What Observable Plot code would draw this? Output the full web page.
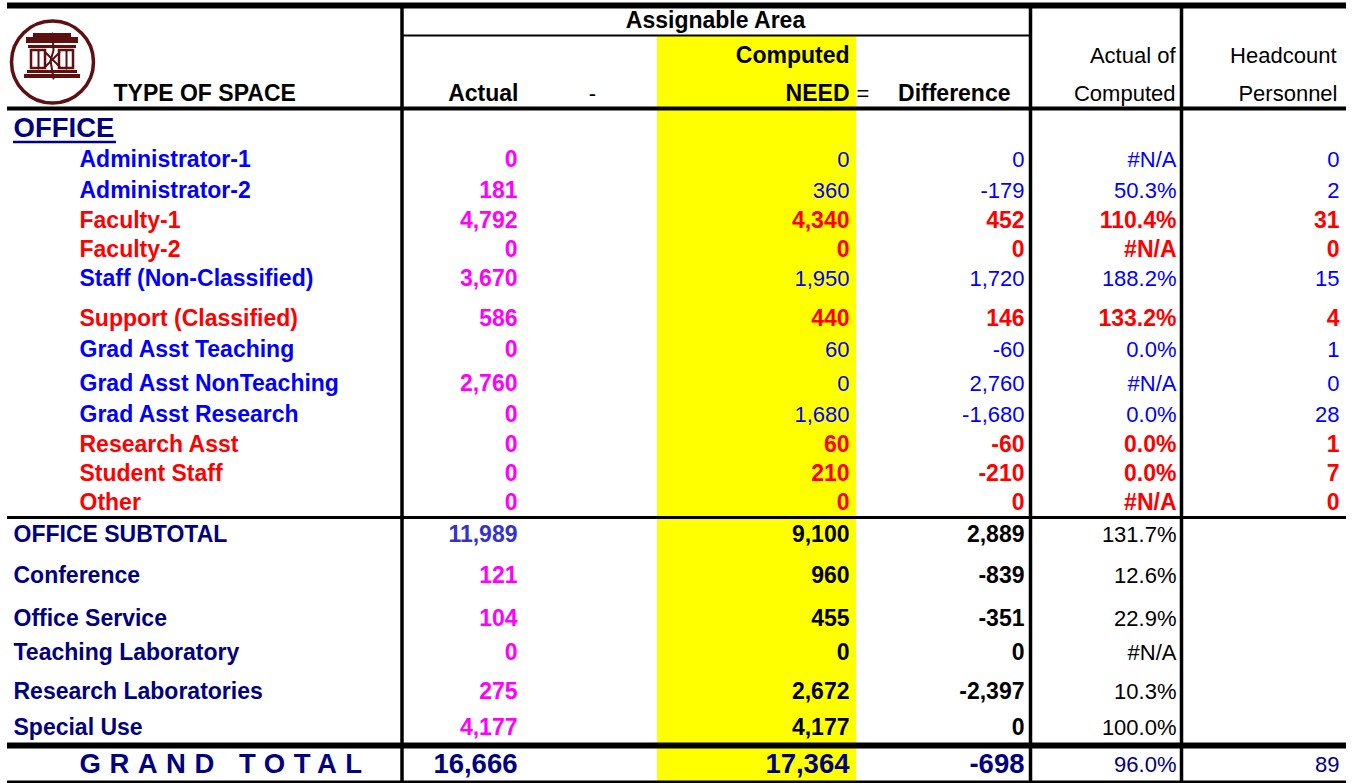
<!DOCTYPE html>
<html><head><meta charset="utf-8">
<script src="https://cdn.jsdelivr.net/npm/d3@7"></script>
<script src="https://cdn.jsdelivr.net/npm/@observablehq/plot@0.6"></script>
<style>html,body{margin:0;padding:0;background:#fff;overflow:hidden}</style>
</head><body><div id="chart"></div>
<script>
// ---------- DATA ----------
const officeCategories = ["Administrator-1","Administrator-2","Faculty-1","Faculty-2","Staff (Non-Classified)","Support (Classified)","Grad Asst Teaching","Grad Asst NonTeaching","Grad Asst Research","Research Asst","Student Staff","Other"];
const officeActual = [0,181,4792,0,3670,586,0,2760,0,0,0,0];
const officeNeed = [0,360,4340,0,1950,440,60,0,1680,60,210,0];
const officeDifference = [0,-179,452,0,1720,146,-60,2760,-1680,-60,-210,0];
const officePct = [null,50.3,110.4,null,188.2,133.2,0.0,null,0.0,0.0,0.0,null];
const officeHeadcount = [0,2,31,0,15,4,1,0,28,1,7,0];

const summaryCategories = ["OFFICE SUBTOTAL","Conference","Office Service","Teaching Laboratory","Research Laboratories","Special Use"];
const summaryActual = [11989,121,104,0,275,4177];
const summaryNeed = [9100,960,455,0,2672,4177];
const summaryDifference = [2889,-839,-351,0,-2397,0];
const summaryPct = [131.7,12.6,22.9,null,10.3,100.0];

const grandLabel = "GRAND TOTAL";
const grandActual = 16666, grandNeed = 17364, grandDifference = -698, grandPct = 96.0, grandHeadcount = 89;

// ---------- LAYOUT & STYLE ----------
const W = 1354, H = 783;
const col = {labelLeft: 13, labelIndent: 79, actual: 517, need: 849, diff: 1024, pct: 1176, head: 1339};
const headerY = [20, 55, 93];
const officeTitleY = 128;
const officeRowY = [159,190,220,249,278,318,349,383,414,444,473,502];
const summaryRowY = [534,575,618,652,691,727];
const grandRowY = 764;
const redRows = new Set(["Faculty-1","Faculty-2","Support (Classified)","Research Asst","Student Staff","Other"]);
const C = {blue:"#0000ff", red:"#ff0000", magenta:"#ff00ff", navy:"#000080", slate:"#3333cc", black:"#000000", maroon:"#5e0f0f", yellow:"#ffff00"};
const FS = 23, FSR = 22, FSB = 27.5;

const loc = d3.formatLocale({decimal:".", thousands:",", grouping:[3], currency:["",""], minus:"-"});
const num = loc.format(",");
const pct = v => v == null ? "#N/A" : v.toFixed(1) + "%";

const cells = [];
const cell = (x, y, text, fill, bold, size, anchor) => cells.push({x, y, text, fill, bold, size, anchor});

// header
cell(715, headerY[0], "Assignable Area", C.black, true, FS, "middle");
cell(col.need, headerY[1], "Computed", C.black, true, FS, "end");
cell(1175, headerY[1], "Actual of", C.black, false, FSR, "end");
cell(1336, headerY[1], "Headcount", C.black, false, FSR, "end");
cell(113, headerY[2], "TYPE OF SPACE", C.black, true, FS, "start");
cell(518, headerY[2], "Actual", C.black, true, FS, "end");
cell(592, headerY[2], "-", C.black, false, FSR, "middle");
cell(col.need, headerY[2], "NEED", C.black, true, FS, "end");
cell(856, headerY[2], "=", C.black, false, FSR, "start");
cell(1010, headerY[2], "Difference", C.black, true, FS, "end");
cell(1175, headerY[2], "Computed", C.black, false, FSR, "end");
cell(1337, headerY[2], "Personnel", C.black, false, FSR, "end");

// office title
cell(col.labelLeft, officeTitleY, "OFFICE", C.navy, true, FSB, "start");

// office rows
officeCategories.forEach((c, i) => {
  const red = redRows.has(c);
  const y = officeRowY[i];
  const f = red ? C.red : C.blue;
  cell(col.labelIndent, y, c, f, true, FS, "start");
  cell(col.actual, y, num(officeActual[i]), C.magenta, true, FS, "end");
  cell(col.need, y, num(officeNeed[i]), f, red, red ? FS : FSR, "end");
  cell(col.diff, y, num(officeDifference[i]), f, red, red ? FS : FSR, "end");
  cell(col.pct, y, pct(officePct[i]), f, red, red ? FS : FSR, "end");
  cell(col.head, y, num(officeHeadcount[i]), f, red, red ? FS : FSR, "end");
});

// summary rows
summaryCategories.forEach((c, i) => {
  const y = summaryRowY[i];
  cell(col.labelLeft, y, c, C.navy, true, FS, "start");
  cell(col.actual, y, num(summaryActual[i]), i === 0 ? C.slate : C.magenta, true, FS, "end");
  cell(col.need, y, num(summaryNeed[i]), C.black, true, FS, "end");
  cell(col.diff, y, num(summaryDifference[i]), C.black, true, FS, "end");
  cell(col.pct, y, pct(summaryPct[i]), C.black, false, FSR, "end");
});

// grand total
cell(col.labelIndent, grandRowY, grandLabel, C.navy, true, FSB, "start");
cell(col.actual, grandRowY, num(grandActual), C.navy, true, FSB, "end");
cell(col.need, grandRowY, num(grandNeed), C.navy, true, FSB, "end");
cell(col.diff, grandRowY, num(grandDifference), C.navy, true, FSB, "end");
cell(col.pct, grandRowY, pct(grandPct), C.navy, false, FSR, "end");
cell(col.head, grandRowY, num(grandHeadcount), C.navy, false, FSR, "end");

// rules
const hRules = [
  {y: 5, x1: 7, x2: 1346, w: 6},
  {y: 35, x1: 401, x2: 1030, w: 2},
  {y: 108, x1: 7, x2: 1346, w: 4},
  {y: 517, x1: 7, x2: 1346, w: 3},
  {y: 745, x1: 7, x2: 1346, w: 6},
  {y: 781.5, x1: 7, x2: 1346, w: 3}
];
const vRules = [
  {x: 401.5, y1: 3, y2: 783, w: 3.5},
  {x: 1030, y1: 3, y2: 783, w: 3.5},
  {x: 1181, y1: 3, y2: 783, w: 3.5}
];
const highlight = [{x1: 657, x2: 856, y1: 36, y2: 783}];
const underline = [{y: 141.5, x1: 13, x2: 116}];

// logo pieces
const logoCircle = [{x: 52, y: 61.5, r: 41}];
const logoFill = [
  {x1: 33, x2: 71, y1: 33, y2: 37},
  {x1: 26, x2: 78, y1: 37, y2: 43},
  {x1: 28, x2: 76, y1: 45, y2: 48},
  {x1: 27, x2: 77, y1: 70, y2: 73},
  {x1: 24, x2: 80, y1: 74, y2: 78}
];
const logoStroke = [
  {x1: 31, x2: 45, y1: 50, y2: 68},
  {x1: 59, x2: 73, y1: 50, y2: 68}
];
const logoLines = [
  [{x: 52, y: 33}, {x: 53, y: 50}, {x: 50, y: 60}, {x: 53, y: 78}],
  [{x: 45, y: 52}, {x: 59, y: 66}],
  [{x: 45, y: 66}, {x: 59, y: 52}],
  [{x: 38, y: 50}, {x: 38, y: 68}],
  [{x: 66, y: 50}, {x: 66, y: 68}]
];

const textMark = (bold, anchor) => Plot.text(cells.filter(d => d.bold === bold && d.anchor === anchor), {
  x: "x", y: "y", text: "text", fill: "fill", fontSize: "size",
  fontWeight: bold ? "bold" : "normal", textAnchor: anchor,
  fontFamily: "'Liberation Sans', Arial, Helvetica, sans-serif"
});

const chart = Plot.plot({
  width: W, height: H,
  margin: 0,
  x: {domain: [0, W], range: [0, W], axis: null},
  y: {domain: [0, H], range: [0, H], axis: null},
  r: {type: "identity"},
  style: {background: "#fff", overflow: "hidden"},
  marks: [
    Plot.rect(highlight, {x1: "x1", x2: "x2", y1: "y1", y2: "y2", fill: C.yellow}),
    // logo
    Plot.dot(logoCircle, {x: "x", y: "y", r: "r", stroke: C.maroon, strokeWidth: 3.5, fill: "none"}),
    Plot.rect(logoFill, {x1: "x1", x2: "x2", y1: "y1", y2: "y2", fill: C.maroon}),
    Plot.rect(logoStroke, {x1: "x1", x2: "x2", y1: "y1", y2: "y2", fill: "none", stroke: C.maroon, strokeWidth: 2.5}),
    ...logoLines.map(l => Plot.line(l, {x: "x", y: "y", stroke: C.maroon, strokeWidth: 2})),
    // text
    textMark(true, "start"), textMark(true, "end"), textMark(true, "middle"),
    textMark(false, "start"), textMark(false, "end"), textMark(false, "middle"),
    // rules
    Plot.ruleY(underline, {y: "y", x1: "x1", x2: "x2", stroke: C.navy, strokeWidth: 2.5}),
    ...hRules.map(r => Plot.ruleY([r], {y: "y", x1: "x1", x2: "x2", stroke: "#000", strokeWidth: r.w})),
    ...vRules.map(r => Plot.ruleX([r], {x: "x", y1: "y1", y2: "y2", stroke: "#000", strokeWidth: r.w}))
  ]
});
chart.querySelectorAll("text").forEach(t => {
  if (t.textContent === grandLabel) t.setAttribute("letter-spacing", "8.5");
});
document.getElementById("chart").appendChild(chart);
</script></body></html>
